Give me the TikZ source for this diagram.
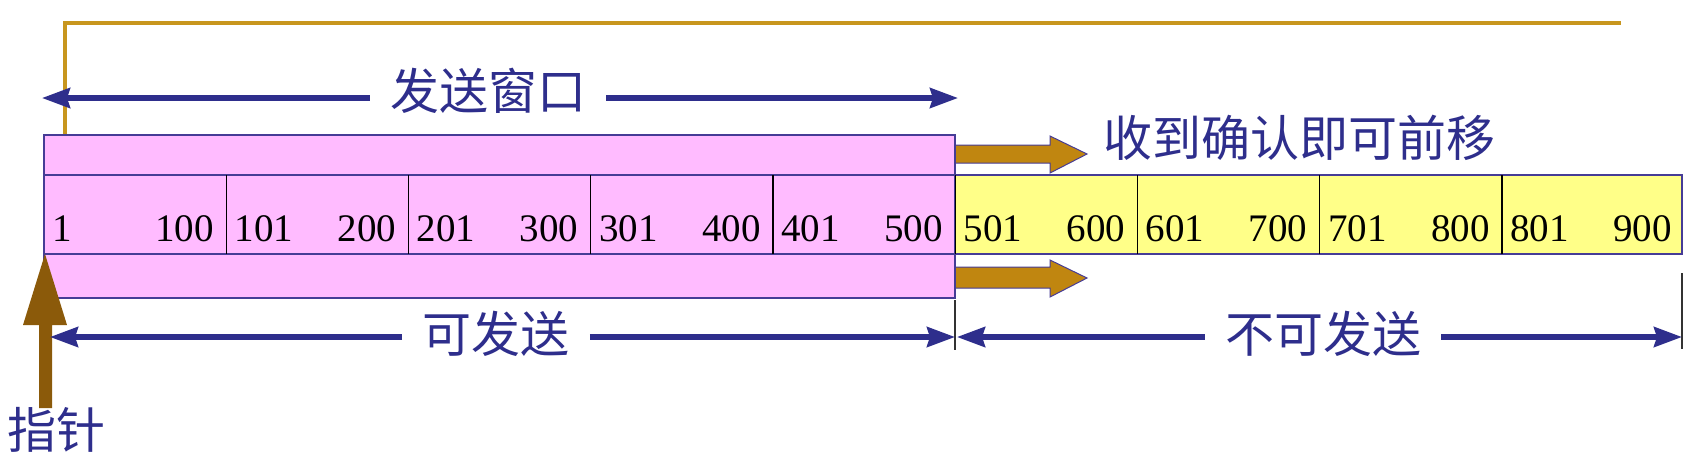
\documentclass[tikz,border=0pt]{standalone}
\usepackage{fontspec}
\setmainfont{Liberation Serif}
\newfontfamily\cjk{Noto Sans CJK SC}
\usetikzlibrary{arrows.meta}
\definecolor{txtblue}{RGB}{46,46,140}
\definecolor{pinkfill}{RGB}{255,187,255}
\definecolor{yelfill}{RGB}{255,255,136}
\definecolor{boxline}{RGB}{70,60,150}
\definecolor{goldline}{RGB}{200,150,30}
\definecolor{goldarrow}{RGB}{192,134,16}
\definecolor{brownarrow}{RGB}{139,90,10}
\tikzset{
  cjklabel/.style={font=\cjk\fontsize{24.5pt}{28pt}\selectfont, text=txtblue, inner xsep=10pt, inner ysep=0pt},
  dimarrow/.style={draw=txtblue, line width=2.6pt, -{Stealth[length=14pt,width=10pt,inset=1.5pt]}},
  numlabel/.style={font=\fontsize{19.5pt}{22pt}\selectfont, inner sep=0pt},
  goldshape/.style={fill=goldarrow, draw=boxline, line width=0.5pt},
  tick/.style={draw=black!80, line width=0.9pt}
}
\begin{document}
\begin{tikzpicture}[x=0.5pt,y=-0.5pt]
\useasboundingbox (0,0) rectangle (1702,468);

% gold frame line
\coordinate (g1) at (65,135);
\coordinate (g2) at (65,23);
\coordinate (g3) at (1621,23);
\draw[goldline, line width=1.6pt] (g1) -- (g2) -- (g3);

% gold arrows
\fill[goldshape] (950,145) -- (1050,145) -- (1050,136) -- (1087,154) -- (1050,173) -- (1050,163) -- (950,163) -- cycle;
\fill[goldshape] (950,267) -- (1050,267) -- (1050,260) -- (1087,278) -- (1050,297) -- (1050,288) -- (950,288) -- cycle;

% yellow part of strip
\draw[fill=yelfill, draw=boxline, line width=0.8pt] (955,175) rectangle (1682,254);

% pink window
\draw[fill=pinkfill, draw=boxline, line width=1pt] (44,135) rectangle (955,298);
\draw[boxline, line width=1pt] (44,175) -- (955,175);
\draw[boxline, line width=1pt] (44,254) -- (955,254);

% cell dividers and numbers
\foreach \i/\a/\b in {0/1/100,1/101/200,2/201/300,3/301/400,4/401/500,5/501/600,6/601/700,7/701/800,8/801/900}{
  \pgfmathsetmacro{\xl}{44+\i*182.25}
  \pgfmathsetmacro{\xr}{44+(\i+1)*182.25}
  \ifnum\i>0 \draw[black, line width=0.7pt] (\xl,175) -- (\xl,254); \fi
  \node[numlabel, anchor=base west] (l\i) at (\xl+8,241) {\a};
  \node[numlabel, anchor=base east] (r\i) at (\xr-12,241) {\b};
}

% pointer arrow
\fill[brownarrow] (39,408) -- (39,325) -- (23,325) -- (45,254) -- (67,325) -- (52,325) -- (52,408) -- cycle;
\node[cjklabel, anchor=center, inner xsep=0pt] (ptr) at (56,430) {指针};

% send window arrow
\node[cjklabel] (sw) at (488,91) {发送窗口};
\coordinate (swL) at (42,98);
\coordinate (swR) at (958,98);
\draw[dimarrow] (sw.west |- swL) -- (swL);
\draw[dimarrow] (sw.east |- swR) -- (swR);

% move forward label
\node[cjklabel, anchor=west, inner xsep=0pt] (mv) at (1103,138) {收到确认即可前移};

% dividers
\coordinate (d1a) at (955,300);
\coordinate (d1b) at (955,350);
\coordinate (d2a) at (1682,273);
\coordinate (d2b) at (1682,349);
\draw[tick] (d1a) -- (d1b);
\draw[tick] (d2a) -- (d2b);

% can send
\node[cjklabel] (ks) at (496,334) {可发送};
\coordinate (ksL) at (50,337);
\coordinate (ksR) at (955,337);
\draw[dimarrow] (ks.west |- ksL) -- (ksL);
\draw[dimarrow] (ks.east |- ksR) -- (ksR);

% cannot send
\node[cjklabel] (bks) at (1323,334) {不可发送};
\coordinate (bkL) at (957,337);
\coordinate (bkR) at (1682,337);
\draw[dimarrow] (bks.west |- bkL) -- (bkL);
\draw[dimarrow] (bks.east |- bkR) -- (bkR);
\end{tikzpicture}
\end{document}
